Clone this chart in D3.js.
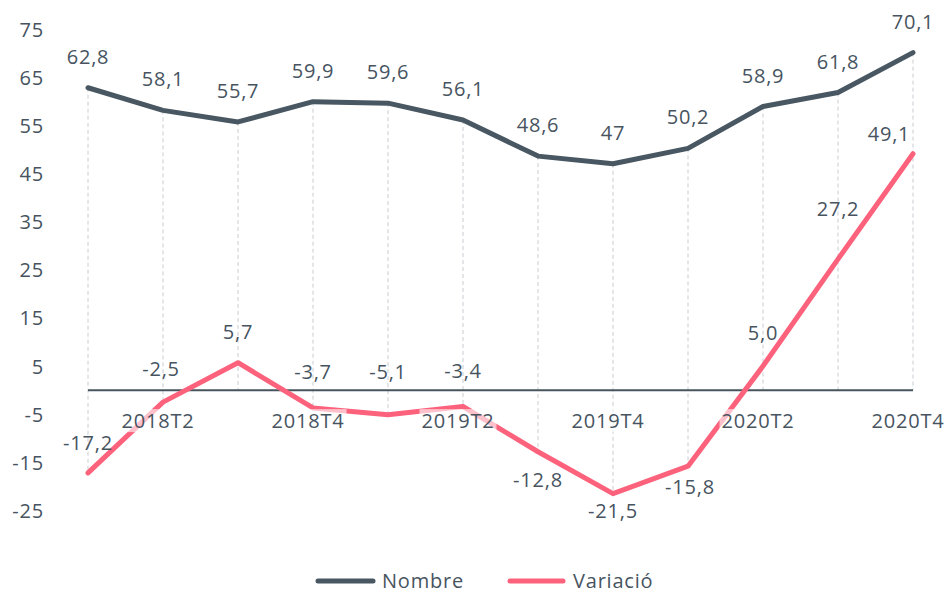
<!DOCTYPE html>
<html>
<head>
<meta charset="utf-8">
<script src="https://cdn.jsdelivr.net/npm/d3@7/dist/d3.min.js"></script>
<style>
  html, body { margin: 0; padding: 0; background: #fff; }
  svg { display: block; }
  text { font-family: "Open Sans", "Noto Sans", sans-serif; fill: #47545f; letter-spacing: 0.8px; }
</style>
</head>
<body>
<svg id="chart" width="949" height="593"></svg>
<script>
// ---- data ----
const categories = ["2018T1","2018T2","2018T3","2018T4","2019T1","2019T2","2019T3","2019T4","2020T1","2020T2","2020T3","2020T4"];
const nombre   = [62.8, 58.1, 55.7, 59.9, 59.6, 56.1, 48.6, 47, 50.2, 58.9, 61.8, 70.1];
const variacio = [-17.2, -2.5, 5.7, -3.7, -5.1, -3.4, -12.8, -21.5, -15.8, 5.0, 27.2, 49.1];
const yTicks = [75, 65, 55, 45, 35, 25, 15, 5, -5, -15, -25];
const xTickLabels = ["2018T2","2018T4","2019T2","2019T4","2020T2","2020T4"];
const seriesNames = ["Nombre", "Variació"];

// ---- label placement (pixel offsets of value labels) ----
const nombreLabelOffset = nombre.map(() => [0, -31]);
const variacioLabelOffset = [[0,-30],[-2,-33],[0,-31],[0,-36],[0,-43],[0,-35],[0,28],[0,17],[2,21],[0,-33],[0,-50],[-24,-20]];

const colors = { nombre: "#485761", variacio: "#fc627c", text: "#47545f", grid: "#c8ccd1" };

const svg = d3.select("#chart");
const x = d3.scalePoint().domain(categories).range([88, 913]);
const y = d3.scaleLinear().domain([-25, 75]).range([510.5, 29]);
const fmt = v => String(v).replace(".", ",");
const fmt1 = v => v.toFixed(1).replace(".", ",");

// drop lines
svg.append("g").selectAll("line").data(categories).join("line")
  .attr("x1", d => x(d)).attr("x2", d => x(d))
  .attr("y1", (d, i) => y(Math.max(0, nombre[i], variacio[i])))
  .attr("y2", (d, i) => y(Math.min(0, nombre[i], variacio[i])))
  .attr("stroke", colors.grid).attr("stroke-width", 1).attr("stroke-dasharray", "4,3");

// y axis labels
const yAxis = d3.axisLeft(y).tickValues(yTicks).tickSize(0).tickPadding(0).tickFormat(d => d);
const gy = svg.append("g").attr("transform", "translate(44,0)").call(yAxis);
gy.select(".domain").remove();
gy.selectAll("text").attr("font-size", 20).attr("fill", colors.text)
  .attr("font-family", '"Open Sans", sans-serif').attr("dy", "0.35em");

// zero line
svg.append("line")
  .attr("x1", x.range()[0]).attr("x2", x.range()[1])
  .attr("y1", y(0)).attr("y2", y(0))
  .attr("stroke", "#46545e").attr("stroke-width", 2);

// lines
const line = d3.line().x((d, i) => x(categories[i])).y(d => y(d));
svg.append("path").datum(nombre).attr("d", line)
  .attr("fill", "none").attr("stroke", colors.nombre).attr("stroke-width", 5)
  .attr("stroke-linejoin", "round").attr("stroke-linecap", "round");
svg.append("path").datum(variacio).attr("d", line)
  .attr("fill", "none").attr("stroke", colors.variacio).attr("stroke-width", 5)
  .attr("stroke-linejoin", "round").attr("stroke-linecap", "round");

// category labels with translucent background
const gx = svg.append("g");
xTickLabels.forEach(lbl => {
  const g = gx.append("g").attr("transform", `translate(${x(lbl) - 5},${y(0) + 31})`);
  const t = g.append("text").attr("text-anchor", "middle").attr("dy", "0.35em")
    .attr("font-size", 20).text(lbl);
  const bb = t.node().getBBox();
  g.insert("rect", "text").attr("x", bb.x - 2).attr("y", bb.y + 2)
    .attr("width", bb.width + 4).attr("height", bb.height - 4)
    .attr("fill", "#fff").attr("fill-opacity", 0.6);
});

// value labels
svg.append("g").selectAll("text").data(nombre).join("text")
  .attr("x", (d, i) => x(categories[i]) + nombreLabelOffset[i][0])
  .attr("y", (d, i) => y(d) + nombreLabelOffset[i][1])
  .attr("dy", "0.35em").attr("text-anchor", "middle").attr("font-size", 20)
  .text(d => fmt(d));
svg.append("g").selectAll("text").data(variacio).join("text")
  .attr("x", (d, i) => x(categories[i]) + variacioLabelOffset[i][0])
  .attr("y", (d, i) => y(d) + variacioLabelOffset[i][1])
  .attr("dy", "0.35em").attr("text-anchor", "middle").attr("font-size", 20)
  .text(d => fmt1(d));

// legend
const legend = svg.append("g");
const legendItems = [
  { name: seriesNames[0], color: colors.nombre, x1: 318, x2: 373, tx: 382 },
  { name: seriesNames[1], color: colors.variacio, x1: 510, x2: 563, tx: 573 }
];
legendItems.forEach(it => {
  legend.append("line").attr("x1", it.x1).attr("x2", it.x2).attr("y1", 581).attr("y2", 581)
    .attr("stroke", it.color).attr("stroke-width", 5).attr("stroke-linecap", "round");
  legend.append("text").attr("x", it.tx).attr("y", 581).attr("dy", "0.35em")
    .attr("font-size", 20).text(it.name);
});
</script>
</body>
</html>
